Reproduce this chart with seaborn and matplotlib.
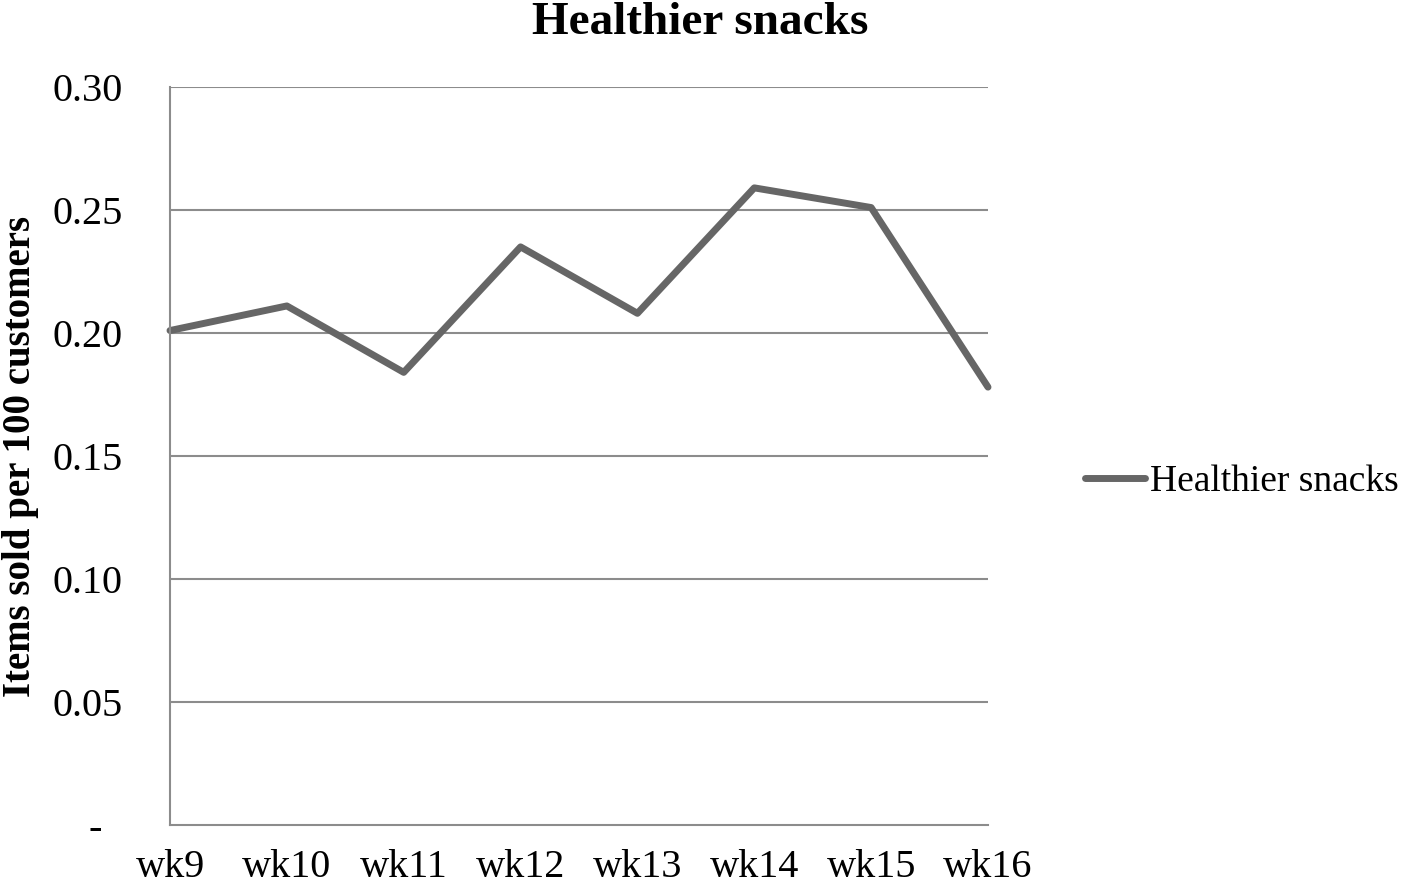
import numpy as np
import pandas as pd
import matplotlib
matplotlib.use("Agg")
import matplotlib.pyplot as plt
import seaborn as sns

# --- Data ---
weeks = ["wk9", "wk10", "wk11", "wk12", "wk13", "wk14", "wk15", "wk16"]
items_per_100 = [0.201, 0.211, 0.184, 0.235, 0.208, 0.259, 0.251, 0.178]
series_name = "Healthier snacks"
y_ticks = [0.0, 0.05, 0.10, 0.15, 0.20, 0.25, 0.30]
y_tick_labels = ["-  ", "0.05", "0.10", "0.15", "0.20", "0.25", "0.30"]

df = pd.DataFrame({
    "pos": np.arange(len(weeks)),
    "value": items_per_100,
    "series": series_name,
})

sns.set_style("white")
plt.rcParams["font.family"] = ["Liberation Serif", "DejaVu Serif"]
plt.rcParams["text.color"] = "black"
plt.rcParams["axes.labelcolor"] = "black"
plt.rcParams["xtick.labelcolor"] = "black"
plt.rcParams["ytick.labelcolor"] = "black"

fig = plt.figure(figsize=(14.18, 8.85), dpi=100)
ax = fig.add_axes([170 / 1418, 60 / 885, 818 / 1418, 738 / 885])

sns.lineplot(data=df, x="pos", y="value", hue="series", palette=["#666666"],
             linewidth=5, ax=ax, clip_on=False)

ax.set_xlim(0, len(weeks) - 1)
ax.set_ylim(0, 0.30)

# grid lines
ax.set_yticks(y_ticks)
ax.set_yticklabels(y_tick_labels, fontsize=29)
for y in y_ticks[1:]:
    ax.axhline(y, color="#8c8c8c", linewidth=1.5, zorder=0)

# x labels at the points, tick marks between the points
ax.set_xticks(df["pos"])
ax.set_xticklabels(weeks, fontsize=29)
ax.tick_params(axis="x", which="major", length=0, pad=17)
ax.set_xticks(list(np.arange(0.5, len(weeks) - 1, 1.0)) + [len(weeks) - 1], minor=True)
ax.tick_params(axis="x", which="minor", length=7, width=1.5, color="#8c8c8c")
ax.tick_params(axis="y", length=0, pad=34)

for side in ["top", "right"]:
    ax.spines[side].set_visible(False)
for side in ["left", "bottom"]:
    ax.spines[side].set_color("#8c8c8c")
    ax.spines[side].set_linewidth(1.5)

ax.set_xlabel("")
ax.set_ylabel("Items sold per 100 customers", fontsize=28, fontweight="bold", labelpad=10)
fig.suptitle("Healthier snacks", fontsize=34, fontweight="bold", x=700 / 1418, y=0.998, va="top")

leg = ax.legend(loc="center left", bbox_to_anchor=(1.1, 0.465), frameon=False,
                fontsize=27, handlelength=1.6, handletextpad=0.15, borderaxespad=0)

fig.savefig("out.png", dpi=100)
